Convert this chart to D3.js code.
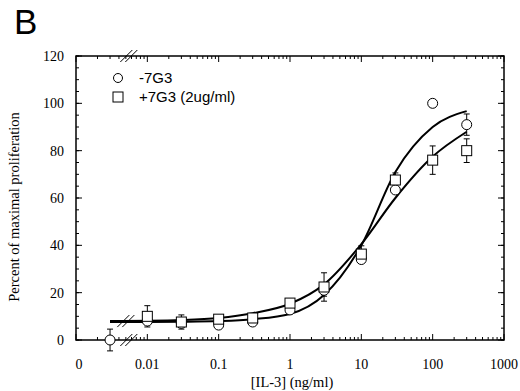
<!DOCTYPE html>
<html>
<head>
<meta charset="utf-8">
<script src="https://cdn.jsdelivr.net/npm/d3@7"></script>
<style>
  body { margin: 0; background: #fff; }
  svg { display: block; }
</style>
</head>
<body>
<svg id="chart" width="520" height="391"></svg>
<script>
// Doses (ng/ml); 0.003 stands in for the "0" dose drawn left of the axis break
const doses = [0.003, 0.01, 0.03, 0.1, 0.3, 1, 3, 10, 30, 100, 300];

// -7G3 (circles)
const minusMean = [0, 8, 7, 6.3, 7.6, 12.7, 21, 34, 63.4, 100, 91];
const minusErr = [4.6, 0.8, 0.8, 0.8, 0.8, 0.8, 2.5, 1, 1, 1.5, 4.5];

// +7G3 2ug/ml (squares), no point at dose 0
const plusMean = [null, 10, 7.6, 8.8, 9.3, 15.6, 22.4, 36.3, 67.6, 76, 80];
const plusErr = [null, 4.5, 3, 1, 1, 1, 6, 3.5, 3, 6, 5];

// fitted curves
const fitDoses = [0.003, 0.01, 0.03, 0.1, 0.3, 1, 3, 10, 30, 100, 300];
const minusFit = [7.6, 7.6, 7.7, 8, 8.8, 11, 19, 40, 71, 90, 96.7];
const plusFit = [8, 8.1, 8.4, 9.3, 11.3, 15.3, 23.5, 40.5, 60, 77.5, 88];

// axis ticks
const xTickVals = [0.001, 0.01, 0.1, 1, 10, 100, 1000];
const xTickLabels = ['0', '0.01', '0.1', '1', '10', '100', '1000'];
const yTickVals = [0, 20, 40, 60, 80, 100, 120];

const margin = { top: 56, right: 16, bottom: 51, left: 76 };
const width = 520 - margin.left - margin.right;
const height = 391 - margin.top - margin.bottom;

const svg = d3.select('#chart');
const g = svg.append('g').attr('transform', `translate(${margin.left},${margin.top})`);

const x = d3.scaleLog().domain([0.001, 1000]).range([0, width]);
const y = d3.scaleLinear().domain([0, 120]).range([height, 0]);

const serif = 'Liberation Serif, Times New Roman, serif';
const sans = 'Liberation Sans, Arial, Helvetica, sans-serif';

// minor tick positions for the log axis
const minorX = [];
for (let e = -3; e < 3; e++) {
  for (let k = 2; k <= 9; k++) minorX.push(k * Math.pow(10, e));
}
const minorY = d3.range(0, 121, 5);

// frame
g.append('rect')
  .attr('width', width).attr('height', height)
  .attr('fill', 'none').attr('stroke', '#000').attr('stroke-width', 1.5);

// x ticks (bottom and top, inward)
const tickG = g.append('g').attr('stroke', '#000').attr('stroke-width', 1);
[[height, -1], [0, 1]].forEach(([y0, dir]) => {
  tickG.selectAll(null).data(minorX).enter().append('line')
    .attr('x1', d => x(d)).attr('x2', d => x(d))
    .attr('y1', y0).attr('y2', y0 + dir * 3);
  tickG.selectAll(null).data(xTickVals).enter().append('line')
    .attr('x1', d => x(d)).attr('x2', d => x(d))
    .attr('y1', y0).attr('y2', y0 + dir * 6);
});
// y ticks (left and right, inward)
[[0, 1], [width, -1]].forEach(([x0, dir]) => {
  tickG.selectAll(null).data(minorY).enter().append('line')
    .attr('x1', x0).attr('x2', x0 + dir * 3)
    .attr('y1', d => y(d)).attr('y2', d => y(d));
  tickG.selectAll(null).data(yTickVals).enter().append('line')
    .attr('x1', x0).attr('x2', x0 + dir * 6)
    .attr('y1', d => y(d)).attr('y2', d => y(d));
});

// tick labels
g.selectAll('.xlab').data(xTickVals).enter().append('text')
  .attr('x', (d, i) => x(d) + (i === 0 ? 3 : 0))
  .attr('y', height + 29)
  .attr('text-anchor', 'middle')
  .style('font-family', serif).style('font-size', '14px')
  .text((d, i) => xTickLabels[i]);

g.selectAll('.ylab').data(yTickVals).enter().append('text')
  .attr('x', -12)
  .attr('y', d => y(d) + 5)
  .attr('text-anchor', 'end')
  .style('font-family', serif).style('font-size', '14px')
  .text(d => d);

// axis titles
svg.append('text')
  .attr('x', 292).attr('y', 387)
  .attr('text-anchor', 'middle')
  .style('font-family', serif).style('font-size', '14.5px')
  .text('[IL-3] (ng/ml)');

svg.append('text')
  .attr('transform', 'translate(19,207) rotate(-90)')
  .attr('text-anchor', 'middle')
  .style('font-family', serif).style('font-size', '14.5px')
  .text('Percent of maximal proliferation');

// panel letter
svg.append('text')
  .attr('x', 14).attr('y', 34)
  .style('font-family', sans).style('font-size', '35px')
  .text('B');

// fitted curves
const line = d3.line()
  .x(d => x(d[0]))
  .y(d => y(d[1]))
  .curve(d3.curveMonotoneX);

[minusFit, plusFit].forEach(fit => {
  g.append('path')
    .datum(fitDoses.map((d, i) => [d, fit[i]]))
    .attr('d', line)
    .attr('fill', 'none')
    .attr('stroke', '#000')
    .attr('stroke-width', 2);
});

// axis-break marks (two slashes)
function breakMark(cx, cy) {
  [-2.5, 2.5].forEach(off => {
    g.append('line')
      .attr('x1', cx + off - 6).attr('y1', cy + 6)
      .attr('x2', cx + off + 6).attr('y2', cy - 6)
      .attr('stroke', '#000').attr('stroke-width', 1);
  });
}
const breakX = x(0.0055);
breakMark(breakX, height);
breakMark(breakX, 0);
breakMark(breakX - 3, y(8));

// error bars
function errorBars(means, errs) {
  const pts = doses.map((d, i) => ({ d, m: means[i], e: errs[i] })).filter(p => p.m !== null);
  pts.forEach(p => {
    const cx = x(p.d);
    g.append('line').attr('x1', cx).attr('x2', cx)
      .attr('y1', y(p.m + p.e)).attr('y2', y(p.m - p.e))
      .attr('stroke', '#000').attr('stroke-width', 1);
    [p.m + p.e, p.m - p.e].forEach(v => {
      g.append('line').attr('x1', cx - 3).attr('x2', cx + 3)
        .attr('y1', y(v)).attr('y2', y(v))
        .attr('stroke', '#000').attr('stroke-width', 1);
    });
  });
  return pts;
}

const minusPts = errorBars(minusMean, minusErr);
const plusPts = errorBars(plusMean, plusErr);

// circles first, squares drawn over them
g.selectAll('.circ').data(minusPts).enter().append('circle')
  .attr('cx', p => x(p.d)).attr('cy', p => y(p.m)).attr('r', 5)
  .attr('fill', '#fff').attr('stroke', '#000').attr('stroke-width', 1);

g.selectAll('.sq').data(plusPts).enter().append('rect')
  .attr('x', p => x(p.d) - 5).attr('y', p => y(p.m) - 5)
  .attr('width', 10).attr('height', 10)
  .attr('fill', '#fff').attr('stroke', '#000').attr('stroke-width', 1);

// legend
const legend = svg.append('g').attr('transform', 'translate(118,78)');
legend.append('circle').attr('cx', 0).attr('cy', 0).attr('r', 4.5)
  .attr('fill', '#fff').attr('stroke', '#000');
legend.append('text').attr('x', 21).attr('y', 5)
  .style('font-family', sans).style('font-size', '15px').text('-7G3');
legend.append('rect').attr('x', -5).attr('y', 14).attr('width', 10).attr('height', 10)
  .attr('fill', '#fff').attr('stroke', '#000');
legend.append('text').attr('x', 21).attr('y', 24)
  .style('font-family', sans).style('font-size', '15px').text('+7G3 (2ug/ml)');
</script>
</body>
</html>
